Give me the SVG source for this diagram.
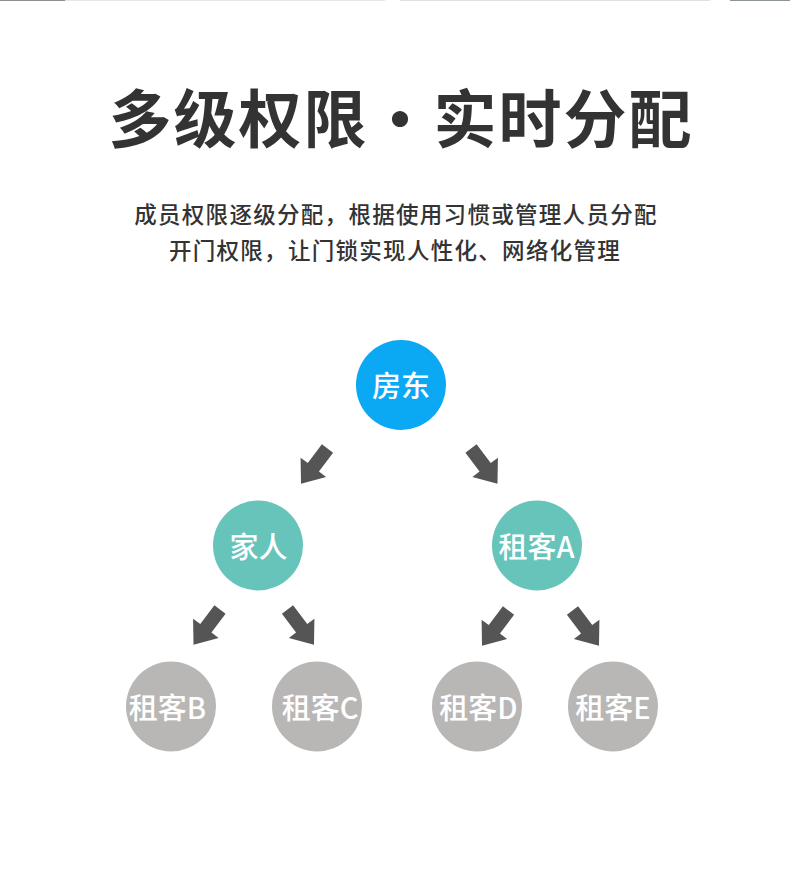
<svg xmlns="http://www.w3.org/2000/svg" width="790" height="875" viewBox="0 0 790 875">
<style>
.title{font-family:"Noto Sans CJK SC","Noto Sans",sans-serif;font-weight:700;font-size:63px;fill:#333333;letter-spacing:2px}
.sub{font-family:"Noto Sans CJK SC","Noto Sans",sans-serif;font-weight:500;font-size:22.5px;fill:#333333;letter-spacing:1.3px}
.lbl{font-family:"Noto Sans CJK SC","Noto Sans",sans-serif;font-weight:500;font-size:29px;fill:#ffffff;text-anchor:middle}
.arrow{fill:#555555}
.root{fill:#0ba8f4}
.mid{fill:#66c4bb}
.leaf{fill:#b9b7b5}
</style>
<defs>
<path id="arr" d="M-7,0 L7,0 L7,23.5 L16,23.5 L0,44 L-16,23.5 L-7,23.5 Z"/>
</defs>
<rect width="790" height="875" fill="#ffffff"/>
<g id="top-strip">
<rect x="0" y="0" width="65" height="1" fill="#8a8f90"/>
<rect x="65" y="0" width="320" height="1" fill="#e6e8e8"/>
<rect x="400" y="0" width="310" height="1" fill="#dbe2e0"/>
<rect x="730" y="0" width="60" height="1" fill="#8d9598"/>
</g>
<g id="heading">
<text class="title" x="401" y="142" text-anchor="middle">多级权限·实时分配</text>
<text class="sub" x="396" y="223" text-anchor="middle">成员权限逐级分配，根据使用习惯或管理人员分配</text>
<text class="sub" x="395" y="259" text-anchor="middle">开门权限，让门锁实现人性化、网络化管理</text>
</g>
<g id="connectors">
<use href="#arr" class="arrow" transform="translate(327.5,448.5) rotate(37)"/>
<use href="#arr" class="arrow" transform="translate(471,448.5) rotate(-37)"/>
<use href="#arr" class="arrow" transform="translate(220,609.5) rotate(37)"/>
<use href="#arr" class="arrow" transform="translate(287.5,609.5) rotate(-37)"/>
<use href="#arr" class="arrow" transform="translate(508.5,610.5) rotate(37)"/>
<use href="#arr" class="arrow" transform="translate(572.5,610.5) rotate(-37)"/>
</g>
<g id="node-fangdong">
<circle class="root" cx="401" cy="385" r="45"/>
<text class="lbl" x="401" y="397">房东</text>
</g>
<g id="node-jiaren">
<circle class="mid" cx="258" cy="545.5" r="45"/>
<text class="lbl" x="258.5" y="557.5">家人</text>
</g>
<g id="node-zukeA">
<circle class="mid" cx="537" cy="545.5" r="45"/>
<text class="lbl" x="536.5" y="557.5">租客A</text>
</g>
<g id="node-zukeB">
<circle class="leaf" cx="171" cy="706.5" r="45"/>
<text class="lbl" x="167.5" y="718.5">租客B</text>
</g>
<g id="node-zukeC">
<circle class="leaf" cx="317" cy="706.5" r="45"/>
<text class="lbl" x="320" y="718.5">租客C</text>
</g>
<g id="node-zukeD">
<circle class="leaf" cx="477" cy="706.5" r="45"/>
<text class="lbl" x="478.5" y="718.5">租客D</text>
</g>
<g id="node-zukeE">
<circle class="leaf" cx="613" cy="706.5" r="45"/>
<text class="lbl" x="613" y="718.5">租客E</text>
</g>
</svg>
